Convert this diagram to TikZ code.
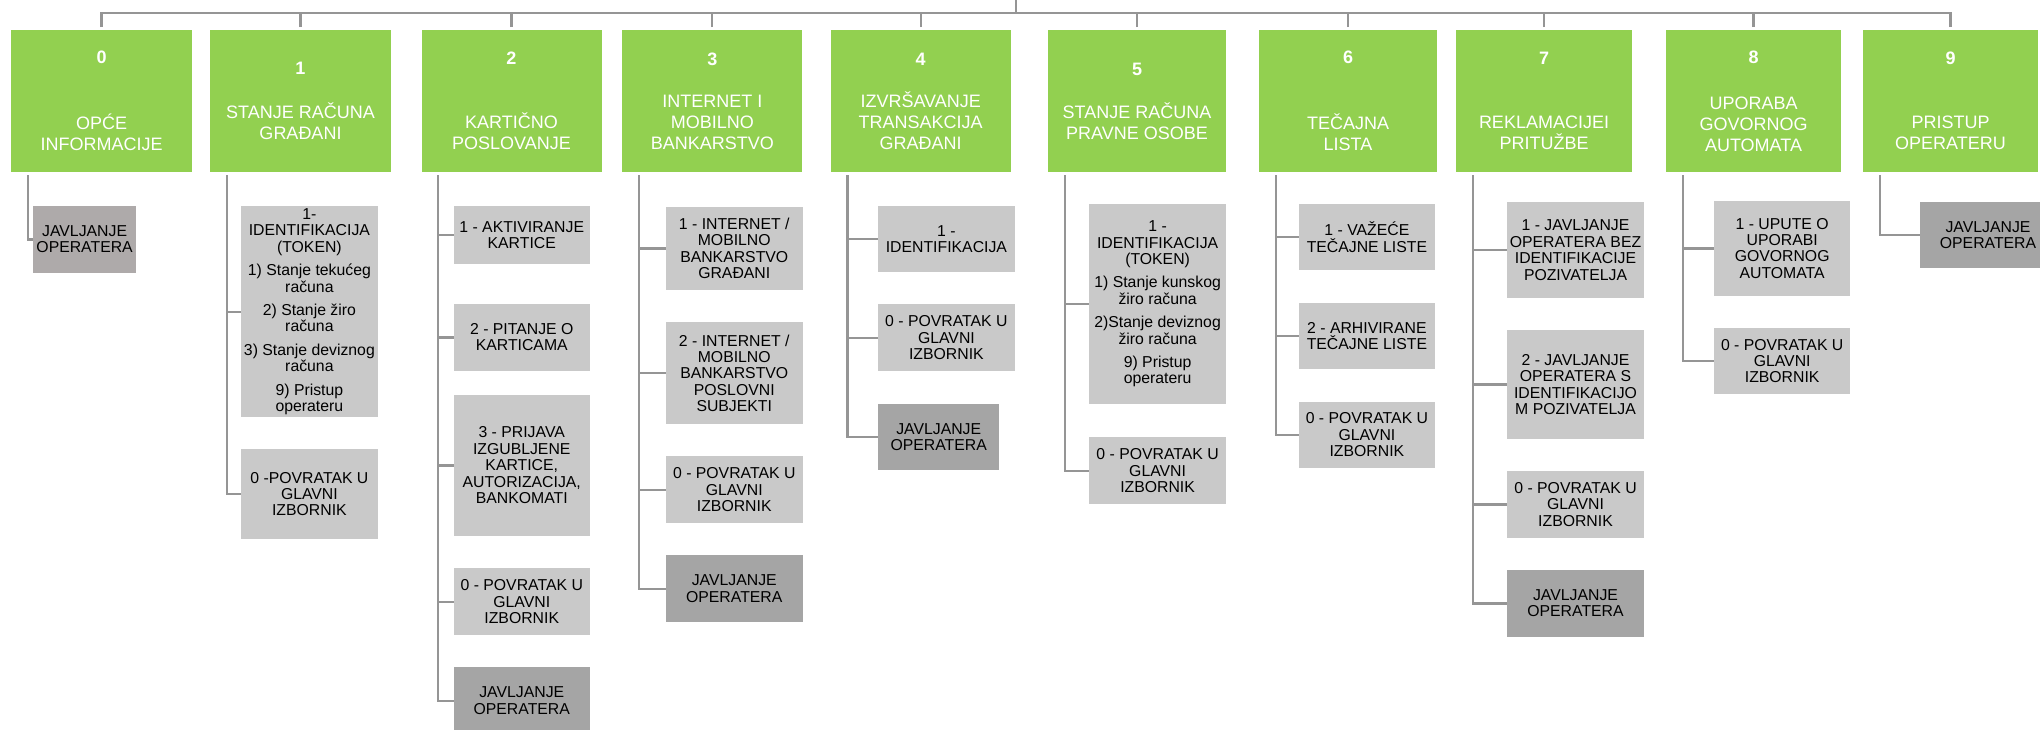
\documentclass[tikz,border=0pt]{standalone}
\usepackage{fontspec}
\setmainfont{Liberation Sans}
\usetikzlibrary{calc}
\definecolor{menucol}{HTML}{92D050}
\definecolor{optcol}{HTML}{C9C9C9}
\definecolor{opercol}{HTML}{A5A5A5}
\definecolor{firstcol}{HTML}{AEAAAA}
\definecolor{linecol}{HTML}{959595}

\begin{document}
\begin{tikzpicture}[x=1pt, y=-1pt,
  menu/.style={fill=menucol, text=white, align=center, inner sep=2pt, outer sep=0pt,
               minimum height=142, font=\fontsize{18}{21}\selectfont},
  opt/.style={text=black, align=center, inner sep=1pt, outer sep=0pt,
              anchor=north west, font=\fontsize{15.8}{16.4}\selectfont},
  conn/.style={linecol, line width=2.3pt}]

\useasboundingbox (0,0) rectangle (2040,729);

% ================================================================ the menu row
\foreach \i/\x/\w/\gap/\lbl in {0/101.6/181/45/{OPĆE\\INFORMACIJE},
    1/300.5/181/23/{STANJE RAČUNA\\GRAĐANI},
    2/511.5/180/43/{KARTIČNO\\POSLOVANJE},
    3/712.3/180/21/{INTERNET I\\MOBILNO\\BANKARSTVO},
    4/920.7/180/21/{IZVRŠAVANJE\\TRANSAKCIJA\\GRAĐANI},
    5/1137/178/22/{STANJE RAČUNA\\PRAVNE OSOBE},
    6/1348/177.5/45/{TEČAJNA\\LISTA},
    7/1544/175.3/43/{REKLAMACIJEI\\PRITUŽBE},
    8/1753.5/174.4/25/{UPORABA\\GOVORNOG\\AUTOMATA},
    9/1950.5/175/43/{PRISTUP\\OPERATERU}}
  \node[menu, minimum width=\w] (g\i) at (\x,101) {\textbf{\i}\\[\gap pt]\lbl};

\coordinate (root) at (1016,0);
\coordinate (bar) at (1016,13.3);
\draw[conn] (root) -- (bar);
\foreach \i in {0,...,9}
  \draw[conn] ([yshift=3pt]g\i.north) |- (bar);

% ================================================================ 0
\foreach \n/\fc/\y/\w/\h/\lbl in {a/firstcol/206/103.6/66.7/{JAVLJANJE\\OPERATERA}} {
  \node[opt, fill=\fc, minimum width=\w, minimum height=\h] (c0\n) at (32.8,\y) {\lbl};
  \draw[conn] ([xshift=16.7pt,yshift=-3pt]g0.south west) |- (c0\n.west);
}

% ================================================================ 1
\foreach \n/\fc/\y/\w/\h/\lbl in {
    a/optcol/206/137.2/211.3/{1-\\IDENTIFIKACIJA\\(TOKEN)\\[7pt]1) Stanje tekućeg\\računa\\[7pt]%
      2) Stanje žiro\\računa\\[7pt]3) Stanje deviznog\\računa\\[7pt]9) Pristup\\operateru},
    b/optcol/449.3/137.2/89.4/{0 -POVRATAK U\\GLAVNI\\IZBORNIK}} {
  \node[opt, fill=\fc, minimum width=\w, minimum height=\h] (c1\n) at (240.8,\y) {\lbl};
  \draw[conn] ([xshift=16.7pt,yshift=-3pt]g1.south west) |- (c1\n.west);
}

% ================================================================ 2
\foreach \n/\fc/\y/\w/\h/\lbl in {
    a/optcol/206/136.5/58/{1 - AKTIVIRANJE\\KARTICE},
    b/optcol/304/136.5/66.7/{2 - PITANJE O\\KARTICAMA},
    c/optcol/394.7/136.5/141.3/{3 - PRIJAVA\\IZGUBLJENE\\KARTICE,\\AUTORIZACIJA,\\BANKOMATI},
    d/optcol/568.3/136.5/67/{0 - POVRATAK U\\GLAVNI\\IZBORNIK},
    e/opercol/667.3/136.5/66.7/{JAVLJANJE\\OPERATERA}} {
  \node[opt, fill=\fc, minimum width=\w, minimum height=\h] (c2\n) at (453.5,\y) {\lbl};
  \draw[conn] ([xshift=16.7pt,yshift=-3pt]g2.south west) |- (c2\n.west);
}

% ================================================================ 3
\foreach \n/\fc/\y/\w/\h/\lbl in {
    a/optcol/206.7/136.5/83.3/{1 - INTERNET /\\MOBILNO\\BANKARSTVO\\GRAĐANI},
    b/optcol/322.3/136.5/101.7/{2 - INTERNET /\\MOBILNO\\BANKARSTVO\\POSLOVNI\\SUBJEKTI},
    c/optcol/456.3/136.5/66.7/{0 - POVRATAK U\\GLAVNI\\IZBORNIK},
    d/opercol/555.3/136.5/66.7/{JAVLJANJE\\OPERATERA}} {
  \node[opt, fill=\fc, minimum width=\w, minimum height=\h] (c3\n) at (666,\y) {\lbl};
  \draw[conn] ([xshift=16.7pt,yshift=-3pt]g3.south west) |- (c3\n.west);
}

% ================================================================ 4
\foreach \n/\fc/\y/\w/\h/\lbl in {
    a/optcol/206/136.4/66.3/{1 -\\IDENTIFIKACIJA},
    b/optcol/304.3/136.4/67/{0 - POVRATAK U\\GLAVNI\\IZBORNIK},
    c/opercol/403.7/121/66.6/{JAVLJANJE\\OPERATERA}} {
  \node[opt, fill=\fc, minimum width=\w, minimum height=\h] (c4\n) at (878.2,\y) {\lbl};
  \draw[conn] ([xshift=16.7pt,yshift=-3pt]g4.south west) |- (c4\n.west);
}

% ================================================================ 5
\foreach \n/\fc/\y/\w/\h/\lbl in {
    a/optcol/203.7/136.8/200.6/{1 -\\IDENTIFIKACIJA\\(TOKEN)\\[7pt]1) Stanje kunskog\\žiro računa\\[7pt]%
      2)Stanje deviznog\\žiro računa\\[7pt]9) Pristup\\operateru},
    b/optcol/437.3/136.8/66.7/{0 - POVRATAK U\\GLAVNI\\IZBORNIK}} {
  \node[opt, fill=\fc, minimum width=\w, minimum height=\h] (c5\n) at (1089.2,\y) {\lbl};
  \draw[conn] ([xshift=16.7pt,yshift=-3pt]g5.south west) |- (c5\n.west);
}

% ================================================================ 6
\foreach \n/\fc/\y/\w/\h/\lbl in {
    a/optcol/204/136.8/66/{1 - VAŽEĆE\\TEČAJNE LISTE},
    b/optcol/302.7/136.8/66.3/{2 - ARHIVIRANE\\TEČAJNE LISTE},
    c/optcol/401.7/136.8/66/{0 - POVRATAK U\\GLAVNI\\IZBORNIK}} {
  \node[opt, fill=\fc, minimum width=\w, minimum height=\h] (c6\n) at (1298.5,\y) {\lbl};
  \draw[conn] ([xshift=16.7pt,yshift=-3pt]g6.south west) |- (c6\n.west);
}

% ================================================================ 7
\foreach \n/\fc/\y/\w/\h/\lbl in {
    a/optcol/202.3/137/95.7/{1 - JAVLJANJE\\OPERATERA BEZ\\IDENTIFIKACIJE\\POZIVATELJA},
    b/optcol/330.3/137/108.4/{2 - JAVLJANJE\\OPERATERA S\\IDENTIFIKACIJO\\M POZIVATELJA},
    c/optcol/471.3/137/66.4/{0 - POVRATAK U\\GLAVNI\\IZBORNIK},
    d/opercol/570/137/66.7/{JAVLJANJE\\OPERATERA}} {
  \node[opt, fill=\fc, minimum width=\w, minimum height=\h] (c7\n) at (1507,\y) {\lbl};
  \draw[conn] ([xshift=16.7pt,yshift=-3pt]g7.south west) |- (c7\n.west);
}

% ================================================================ 8
\foreach \n/\fc/\y/\w/\h/\lbl in {
    a/optcol/201/136.3/94.7/{1 - UPUTE O\\UPORABI\\GOVORNOG\\AUTOMATA},
    b/optcol/327.7/136.3/66.6/{0 - POVRATAK U\\GLAVNI\\IZBORNIK}} {
  \node[opt, fill=\fc, minimum width=\w, minimum height=\h] (c8\n) at (1714,\y) {\lbl};
  \draw[conn] ([xshift=16.7pt,yshift=-3pt]g8.south west) |- (c8\n.west);
}

% ================================================================ 9
\foreach \n/\fc/\y/\w/\h/\lbl in {a/opercol/201.7/136/66.6/{JAVLJANJE\\OPERATERA}} {
  \node[opt, fill=\fc, minimum width=\w, minimum height=\h] (c9\n) at (1920,\y) {\lbl};
  \draw[conn] ([xshift=16.7pt,yshift=-3pt]g9.south west) |- (c9\n.west);
}

\end{tikzpicture}
\end{document}
